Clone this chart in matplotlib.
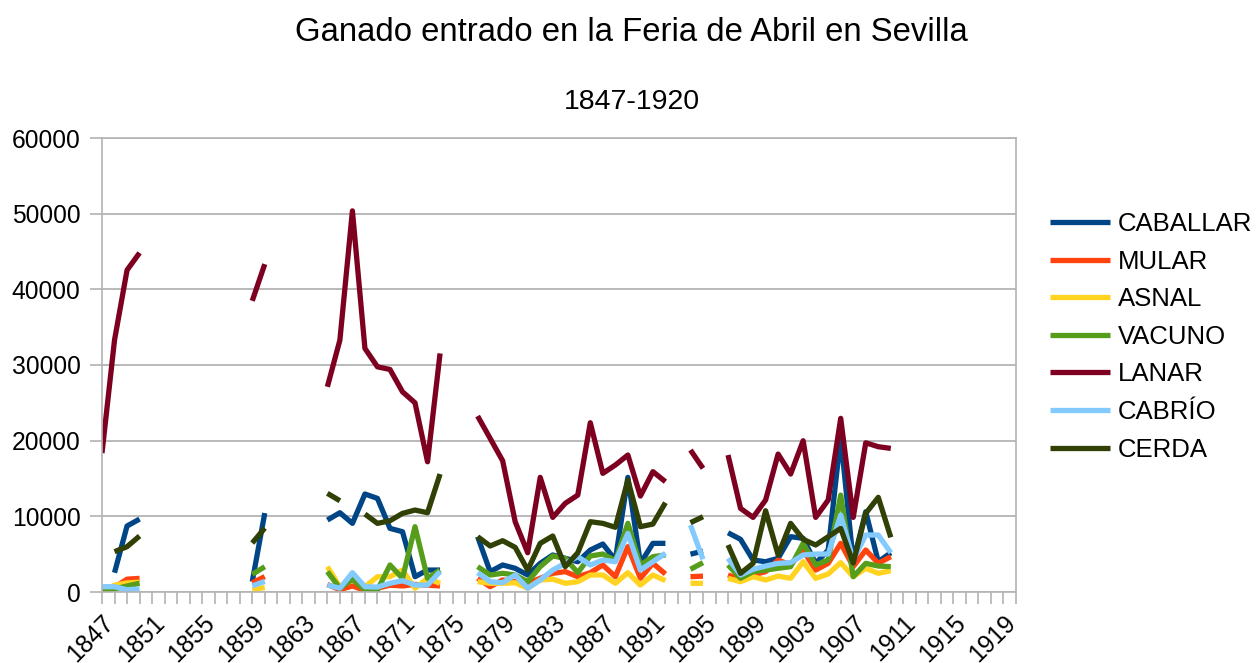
import numpy as np
import matplotlib
matplotlib.use('Agg')
import matplotlib.pyplot as plt

plt.rcParams['font.family'] = ['Liberation Sans', 'DejaVu Sans']

nan = np.nan
years = list(range(1847, 1921))

# values per year, 1847..1920 (nan = no data)
def series(blocks):
    vals = {y: nan for y in years}
    for start, lst in blocks:
        for i, v in enumerate(lst):
            vals[start + i] = v
    return [vals[y] for y in years]

caballar = series([
    (1848, [2550, 8720, 9640]),
    (1859, [1360, 10430]),
    (1865, [9510, 10480, 9070, 12950, 12370, 8410, 7970, 2020, 2900, 2900]),
    (1877, [7310, 2690, 3570, 3130, 2250, 3790, 4890, 4450, 4000, 5550, 6340, 4230, 15150, 3790, 6430, 6430]),
    (1894, [5000, 5400]),
    (1897, [7830, 6960, 4230, 4000, 4450, 7310, 7090, 3790, 5550, 20520, 4000, 10610, 4000, 5190]),
])
mular = series([
    (1847, [200, 600, 1700, 1800]),
    (1859, [1230, 2030]),
    (1865, [1000, 300, 800, 200, 500, 900, 800, 1000, 900, 800]),
    (1877, [1810, 700, 1590, 1360, 1150, 1810, 2470, 2690, 2020, 2550, 3570, 2020, 6000, 1810, 3790, 2380]),
    (1894, [2020, 2100]),
    (1897, [2250, 1680, 2250, 2690, 4230, 3570, 5500, 2900, 3790, 6430, 3350, 5550, 3790, 4670]),
])
asnal = series([
    (1847, [100, 900, 1200, 1300]),
    (1859, [300, 600]),
    (1865, [3350, 700, 1600, 700, 2020, 2020, 2900, 490, 1800, 1150]),
    (1877, [1360, 1150, 1150, 1230, 490, 1590, 1700, 1150, 1360, 2250, 2250, 1150, 2550, 920, 2250, 1500]),
    (1894, [1150, 1150]),
    (1897, [1810, 1360, 2020, 1590, 2100, 1810, 4000, 1810, 2380, 3880, 2020, 3130, 2470, 2820]),
])
vacuno = series([
    (1847, [100, 400, 800, 1150]),
    (1859, [2330, 3340]),
    (1865, [2690, 490, 1680, 260, 260, 3570, 1810, 8630, 1810, 2900]),
    (1877, [3350, 2250, 2470, 2250, 1360, 3350, 4760, 4450, 2550, 4760, 5020, 4140, 9070, 3570, 4670, 4890]),
    (1894, [3000, 3880]),
    (1897, [3570, 1810, 2690, 2900, 3130, 3350, 6430, 3570, 4230, 12810, 2020, 3790, 3430, 3350]),
])
lanar = series([
    (1847, [18360, 33290, 42540, 44820]),
    (1859, [38480, 43330]),
    (1865, [27120, 33290, 50370, 32190, 29760, 29410, 26460, 25000, 17210, 31530]),
    (1877, [23250, 20300, 17340, 9290, 5190, 15150, 9860, 11720, 12810, 22370, 15680, 16780, 18100, 12680, 15900, 14580]),
    (1894, [18760, 16340]),
    (1897, [18100, 11050, 9860, 12150, 18230, 15590, 19990, 9860, 12150, 22950, 9860, 19720, 19200, 18980]),
])
cabrio = series([
    (1847, [700, 700, 300, 400]),
    (1859, [800, 1400]),
    (1865, [920, 490, 2550, 700, 650, 1150, 1500, 920, 920, 2700]),
    (1877, [2550, 1360, 1230, 2250, 490, 1590, 2900, 3790, 4670, 3570, 4230, 4000, 7750, 2900, 4000, 5110]),
    (1894, [8850, 4320]),
    (1897, [4450, 2250, 3000, 3430, 3790, 3880, 4890, 5020, 5020, 10170, 4230, 7530, 7530, 5190]),
])
cerda = series([
    (1848, [5330, 5990, 7400]),
    (1859, [6470, 8450]),
    (1865, [13040, 12060]),
    (1868, [10300, 9070, 9420, 10390, 10830, 10480, 15590]),
    (1877, [7310, 6080, 6780, 5900, 2900, 6430, 7400, 3350, 5190, 9290, 9070, 8550, 14800, 8630, 8980, 11800]),
    (1894, [9160, 9950]),
    (1897, [6210, 2470, 3790, 10740, 4890, 9070, 6960, 6210, 7310, 8410, 3830, 10390, 12510, 7220]),
])

names = ['CABALLAR', 'MULAR', 'ASNAL', 'VACUNO', 'LANAR', 'CABRÍO', 'CERDA']
data = [caballar, mular, asnal, vacuno, lanar, cabrio, cerda]
colors = ['#004586', '#ff420e', '#ffd320', '#579d1c', '#7e0021', '#83caff', '#314004']
tick_years = list(range(1847, 1920, 4))

fig = plt.figure(figsize=(12.56, 6.63), dpi=100)
ax = fig.add_axes([102 / 1256, 71 / 663, 914 / 1256, 454 / 663])

for name, vals, col in zip(names, data, colors):
    ax.plot(years, vals, color=col, lw=3.8, label=name, solid_capstyle='butt')

ax.set_xlim(1847, 1920)
ax.set_ylim(0, 60000)
ax.set_yticks(range(0, 60001, 10000))
ax.set_xticks(years)
ax.set_xticklabels([str(y) if y in tick_years else '' for y in years],
                   rotation=45, ha='right', rotation_mode='anchor')
ax.tick_params(axis='both', labelsize=17.7, color='#b3b3b3', length=8.5, width=1.2)
ax.tick_params(axis='y', pad=7)
ax.tick_params(axis='x', pad=5)
ax.grid(axis='y', color='#b3b3b3', lw=1.3)
ax.set_axisbelow(True)
for sp in ax.spines.values():
    sp.set_color('#b3b3b3')
    sp.set_linewidth(1.2)

fig.text(0.503, 1 - 41 / 663, 'Ganado entrado en la Feria de Abril en Sevilla',
         ha='center', va='baseline', fontsize=23.7)
fig.text(0.503, 1 - 109 / 663, '1847-1920', ha='center', va='baseline', fontsize=20.5)

fig.legend(loc='upper left', bbox_to_anchor=(1050 / 1256, 1 - 212 / 663), frameon=False,
           fontsize=18.5, handlelength=2.33, handletextpad=0.31, labelspacing=0.53,
           borderpad=0, borderaxespad=0)

fig.savefig('out.png', dpi=100)
